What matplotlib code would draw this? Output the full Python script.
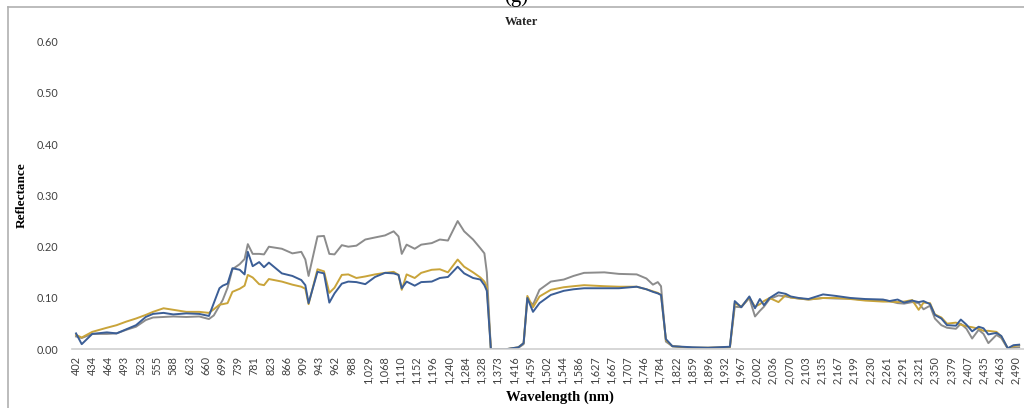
import matplotlib
matplotlib.use("Agg")
import matplotlib.pyplot as plt
from matplotlib.lines import Line2D

# wavelength labels shown on the category axis (one per tick)
wl_labels = [402, 434, 464, 493, 523, 555, 588, 623, 660, 699, 739, 781, 823, 866,
             909, 943, 962, 988, 1029, 1068, 1110, 1152, 1196, 1240, 1284, 1328,
             1373, 1416, 1459, 1502, 1544, 1586, 1627, 1667, 1707, 1746, 1784,
             1822, 1859, 1896, 1932, 1967, 2002, 2036, 2070, 2103, 2135, 2167,
             2199, 2230, 2261, 2291, 2321, 2350, 2379, 2407, 2435, 2463, 2490]

# sample positions along the category axis (in tick units)
pos = [0, 0.35, 1.0, 1.9, 2.5, 3.1, 3.7, 4.3, 4.75, 5.4, 6.0, 6.8, 7.6, 8.2, 8.5,
       8.85, 9.05, 9.35, 9.65, 10.1, 10.4, 10.6, 10.9, 11.3, 11.6, 11.9, 12.7,
       13.35, 13.9, 14.15, 14.35, 14.9, 15.3, 15.63, 15.95, 16.4, 16.8, 17.3,
       17.85, 18.45, 19.07, 19.6, 19.9, 20.1, 20.4, 20.9, 21.3, 21.95, 22.45,
       22.95, 23.55, 23.95, 24.5, 24.95, 25.2, 25.35, 25.6, 26.5, 27.3, 27.62,
       27.85, 28.2, 28.6, 29.3, 30.1, 30.7, 31.35, 32.6, 33.5, 34.6, 35.2, 35.6,
       35.9, 36.1, 36.4, 36.8, 38.0, 39.0, 40.35, 40.65, 41.05, 41.55, 41.9,
       42.2, 42.45, 42.8, 43.35, 43.8, 44.1, 44.6, 45.2, 46.1, 46.9, 47.8, 48.7,
       49.8, 50.2, 50.7, 51.1, 51.6, 52.0, 52.3, 52.7, 53.0, 53.4, 53.75, 54.3,
       54.6, 54.95, 55.3, 55.7, 56.0, 56.3, 56.8, 57.1, 57.5, 57.85, 58.2]

refl_blue = [0.031, 0.010, 0.030, 0.033, 0.031, 0.039, 0.047, 0.063, 0.069, 0.071,
             0.068, 0.070, 0.069, 0.065, 0.090, 0.119, 0.124, 0.128, 0.158, 0.155,
             0.146, 0.190, 0.162, 0.170, 0.160, 0.169, 0.148, 0.143, 0.135, 0.125,
             0.090, 0.151, 0.148, 0.091, 0.109, 0.128, 0.132, 0.131, 0.127, 0.141,
             0.149, 0.148, 0.145, 0.119, 0.132, 0.124, 0.131, 0.132, 0.139, 0.141,
             0.161, 0.148, 0.139, 0.136, 0.125, 0.114, 0.0, 0.0, 0.004, 0.012,
             0.100, 0.073, 0.090, 0.106, 0.114, 0.117, 0.119, 0.119, 0.119, 0.122,
             0.117, 0.112, 0.109, 0.106, 0.020, 0.006, 0.004, 0.003, 0.005, 0.094,
             0.082, 0.103, 0.080, 0.098, 0.086, 0.100, 0.111, 0.108, 0.103, 0.100,
             0.098, 0.107, 0.104, 0.100, 0.098, 0.097, 0.094, 0.097, 0.091, 0.095,
             0.092, 0.094, 0.088, 0.067, 0.060, 0.047, 0.046, 0.058, 0.048, 0.035,
             0.044, 0.041, 0.029, 0.032, 0.026, 0.002, 0.008, 0.009]

refl_gray = [0.025, 0.022, 0.030, 0.030, 0.031, 0.038, 0.044, 0.057, 0.062, 0.063,
             0.064, 0.063, 0.064, 0.059, 0.066, 0.085, 0.096, 0.120, 0.156, 0.166,
             0.176, 0.205, 0.186, 0.186, 0.185, 0.200, 0.196, 0.187, 0.190, 0.175,
             0.143, 0.220, 0.221, 0.186, 0.185, 0.203, 0.200, 0.202, 0.214, 0.218,
             0.222, 0.230, 0.220, 0.186, 0.204, 0.196, 0.204, 0.207, 0.214, 0.212,
             0.250, 0.230, 0.214, 0.197, 0.187, 0.150, 0.0, 0.0, 0.003, 0.010,
             0.097, 0.087, 0.116, 0.132, 0.136, 0.143, 0.149, 0.150, 0.147, 0.146,
             0.138, 0.126, 0.131, 0.123, 0.015, 0.006, 0.003, 0.003, 0.004, 0.083,
             0.082, 0.100, 0.064, 0.075, 0.083, 0.098, 0.105, 0.103, 0.101, 0.099,
             0.097, 0.100, 0.099, 0.099, 0.096, 0.096, 0.094, 0.090, 0.089, 0.092,
             0.090, 0.078, 0.085, 0.060, 0.047, 0.042, 0.040, 0.050, 0.040, 0.021,
             0.038, 0.030, 0.012, 0.028, 0.022, 0.001, 0.003, 0.004]

refl_gold = [0.028, 0.023, 0.034, 0.042, 0.047, 0.054, 0.060, 0.067, 0.073, 0.080,
             0.077, 0.073, 0.073, 0.071, 0.078, 0.087, 0.088, 0.090, 0.112, 0.118,
             0.124, 0.145, 0.140, 0.127, 0.125, 0.137, 0.132, 0.126, 0.122, 0.118,
             0.088, 0.156, 0.152, 0.110, 0.120, 0.145, 0.146, 0.139, 0.142, 0.146,
             0.149, 0.151, 0.145, 0.116, 0.146, 0.139, 0.149, 0.155, 0.156, 0.150,
             0.175, 0.161, 0.150, 0.140, 0.132, 0.122, 0.0, 0.0, 0.004, 0.012,
             0.104, 0.082, 0.103, 0.116, 0.121, 0.123, 0.125, 0.123, 0.122, 0.122,
             0.117, 0.113, 0.110, 0.106, 0.018, 0.006, 0.003, 0.003, 0.004, 0.090,
             0.083, 0.101, 0.083, 0.088, 0.094, 0.100, 0.092, 0.106, 0.101, 0.099,
             0.097, 0.100, 0.100, 0.098, 0.095, 0.093, 0.093, 0.092, 0.093, 0.096,
             0.077, 0.091, 0.090, 0.068, 0.062, 0.050, 0.052, 0.048, 0.045, 0.043,
             0.040, 0.036, 0.036, 0.034, 0.025, 0.002, 0.006, 0.008]

y_ticks = [0.0, 0.1, 0.2, 0.3, 0.4, 0.5, 0.6]

W, H = 1024, 408
fig = plt.figure(figsize=(W / 100, H / 100), dpi=100)
ax = fig.add_axes([72 / W, 1 - 349.3 / H, (W - 72) / W, (349.3 - 41.5) / H])

ax.plot(pos, refl_gray, color="#8c8c8c", lw=1.4)
ax.plot(pos, refl_gold, color="#c9a43a", lw=1.4)
ax.plot(pos, refl_blue, color="#3b5e96", lw=1.4)

ax.set_xlim(-0.25, 58.5)
ax.set_ylim(0, 0.6)
ax.set_yticks(y_ticks)
ax.set_yticklabels([f"{v:.2f}" for v in y_ticks])
ax.set_xticks(range(len(wl_labels)))
ax.set_xticklabels([f"{w:,}" for w in wl_labels], rotation=90)
ax.tick_params(axis="both", length=0, labelsize=7.8, labelcolor="#404040")
ax.tick_params(axis="y", pad=10)
ax.tick_params(axis="x", pad=5)
for lab in ax.get_xticklabels() + ax.get_yticklabels():
    lab.set_fontfamily("Lato")

for side in ["top", "right", "left"]:
    ax.spines[side].set_visible(False)
ax.spines["bottom"].set_color("#d0d0d0")
ax.spines["bottom"].set_linewidth(1.2)

serif = "Liberation Serif"
fig.text(522 / W, 1 - 22 / H, "Water", ha="center", va="center",
         fontsize=9, fontweight="bold", family=serif, color="#262626")
fig.text(22 / W, 1 - 195 / H, "Reflectance", ha="center", va="center",
         rotation=90, fontsize=9.5, fontweight="bold", family=serif)
fig.text(560 / W, 1 - 397 / H, "Wavelength (nm)", ha="center", va="center",
         fontsize=10.5, fontweight="bold", family=serif)
fig.text(516 / W, 1 + 13 / H, "(g)", ha="center", va="top",
         fontsize=15, family=serif)

# outer frame of the panel
fig.add_artist(Line2D([8 / W, 1], [1 - 7 / H, 1 - 7 / H], color="#b0b0b0", lw=1.2))
fig.add_artist(Line2D([8 / W, 8 / W], [0, 1 - 7 / H], color="#b0b0b0", lw=1.2))

fig.savefig("out.png", dpi=100)
